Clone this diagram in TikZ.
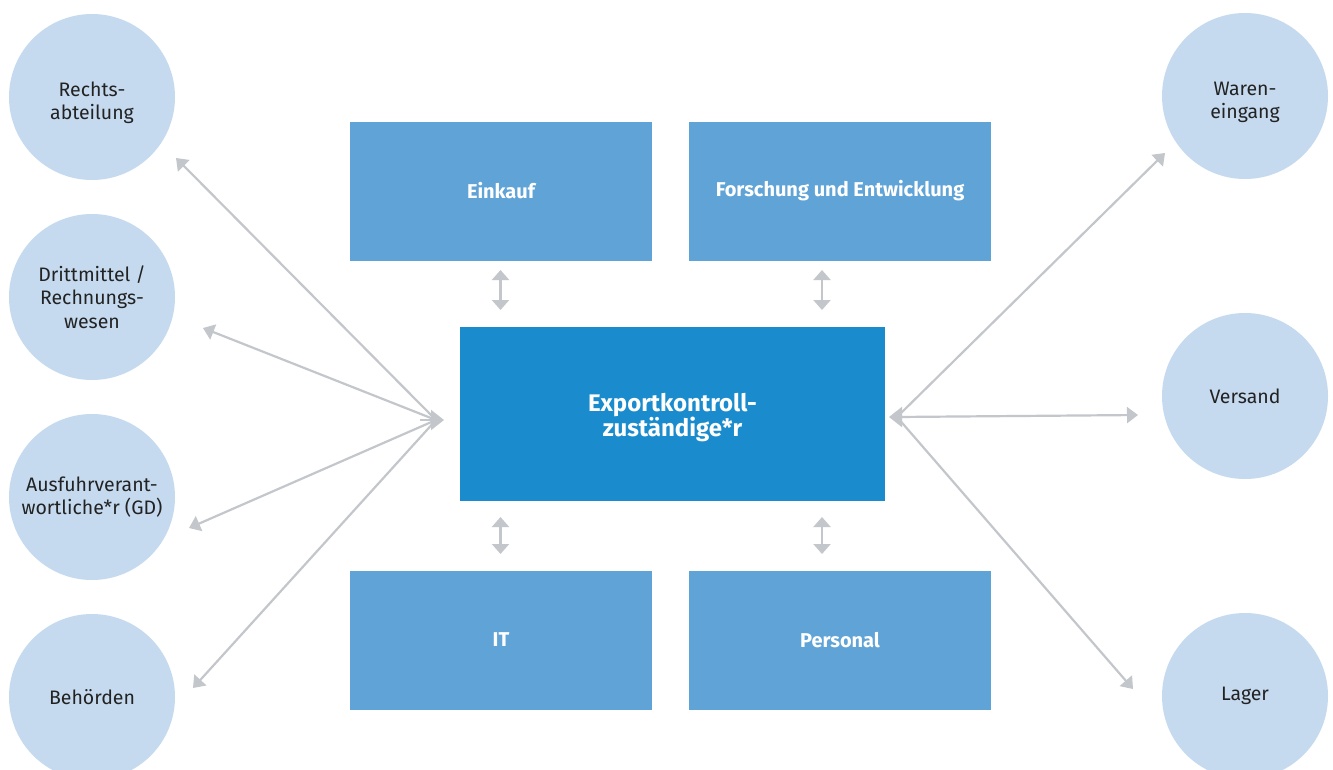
\documentclass[tikz,border=0pt]{standalone}
\usepackage{fontspec}
\setmainfont{Fira Sans}
\usetikzlibrary{arrows.meta}
\definecolor{circ}{RGB}{197,218,239}
\definecolor{boxc}{RGB}{96,163,215}
\definecolor{mainc}{RGB}{26,140,205}
\definecolor{arr}{RGB}{195,199,203}
\definecolor{txt}{RGB}{34,34,34}
\newcommand{\lowfirst}[1]{\rule{0pt}{#1}}
\tikzset{
  unit/.style={circle, fill=circ, minimum size=166pt, inner sep=0pt, align=center,
    text=txt, font=\fontsize{19.5}{23.5}\selectfont},
  dept/.style={rectangle, fill=boxc, minimum width=302pt, minimum height=139pt, inner sep=0pt,
    align=center, text=white, font=\fontsize{20}{24}\selectfont\bfseries},
  central/.style={rectangle, fill=mainc, minimum width=425pt, minimum height=174pt, inner sep=0pt,
    align=center, text=white, font=\fontsize{24}{25.5}\selectfont\bfseries},
  link/.style={draw=arr, line width=2.2pt, -{Triangle[length=11pt,width=16pt]}},
  hub/.style={draw=arr, line width=2.2pt, -{Triangle[length=13pt,width=20pt]}},
  vlink/.style={draw=arr, line width=2.2pt, {Triangle[length=10pt,width=17pt]}-{Triangle[length=10pt,width=17pt]}}
}
\begin{document}
\begin{tikzpicture}[x=1pt,y=-1pt]
\useasboundingbox (0,0) rectangle (1333,769);
\fill[white] (0,0) rectangle (1333,769);
% circles left
\node[unit] (recht) at (92,97) {\lowfirst{26pt}Rechts-\\abteilung};
\node[unit] (dritt) at (92,297) {Drittmittel /\\Rechnungs-\\wesen};
\node[unit] (ausf) at (92,497) {Ausfuhrverant-\\wortliche*r (GD)};
\node[unit] (behoe) at (92,697) {Behörden};
% circles right
\node[unit] (waren) at (1245,96) {\lowfirst{26pt}Waren-\\eingang};
\node[unit] (vers) at (1245,396) {Versand};
\node[unit] (lager) at (1245,696) {Lager};
% boxes
\node[dept] (einkauf) at (501,191) {Einkauf};
\node[dept] (fue) at (840,191) {Forschung und Entwicklung};
\node[central] (ek) at (672.5,414) {\lowfirst{25pt}Exportkontroll-\\zuständige*r};
\node[dept] (it) at (501,640) {IT};
\node[dept] (pers) at (840,640) {Personal};
% hub points
\coordinate (L) at (444,420);
\coordinate (Lb) at (436,420);
\coordinate (Lc) at (420,420);
\coordinate (R) at (889,417);
\coordinate (Rb) at (897,417);
\coordinate (Rc) at (913,417);
% connector end points
\coordinate (a1) at (176,158);
\coordinate (a2) at (203,328);
\coordinate (a3) at (189,528);
\coordinate (a4) at (193,688);
\coordinate (b1) at (1165,153);
\coordinate (b2) at (1138,415);
\coordinate (b3) at (1133,689);
\draw[link] (Lb) -- (a1);
\draw[link] (Lb) -- (a2);
\draw[link] (Lb) -- (a3);
\draw[link] (Lb) -- (a4);
\draw[hub] (Lc) -- (L);
\draw[link] (Rb) -- (b1);
\draw[link] (Rb) -- (b2);
\draw[link] (Rb) -- (b3);
\draw[hub] (Rc) -- (R);
% vertical links
\coordinate (v1a) at (500.5,270); \coordinate (v1b) at (500.5,310);
\coordinate (v2a) at (822,270); \coordinate (v2b) at (822,310);
\coordinate (v3a) at (500.5,517); \coordinate (v3b) at (500.5,554);
\coordinate (v4a) at (822,517); \coordinate (v4b) at (822,554);
\draw[vlink] (v1a) -- (v1b);
\draw[vlink] (v2a) -- (v2b);
\draw[vlink] (v3a) -- (v3b);
\draw[vlink] (v4a) -- (v4b);
\end{tikzpicture}
\end{document}
